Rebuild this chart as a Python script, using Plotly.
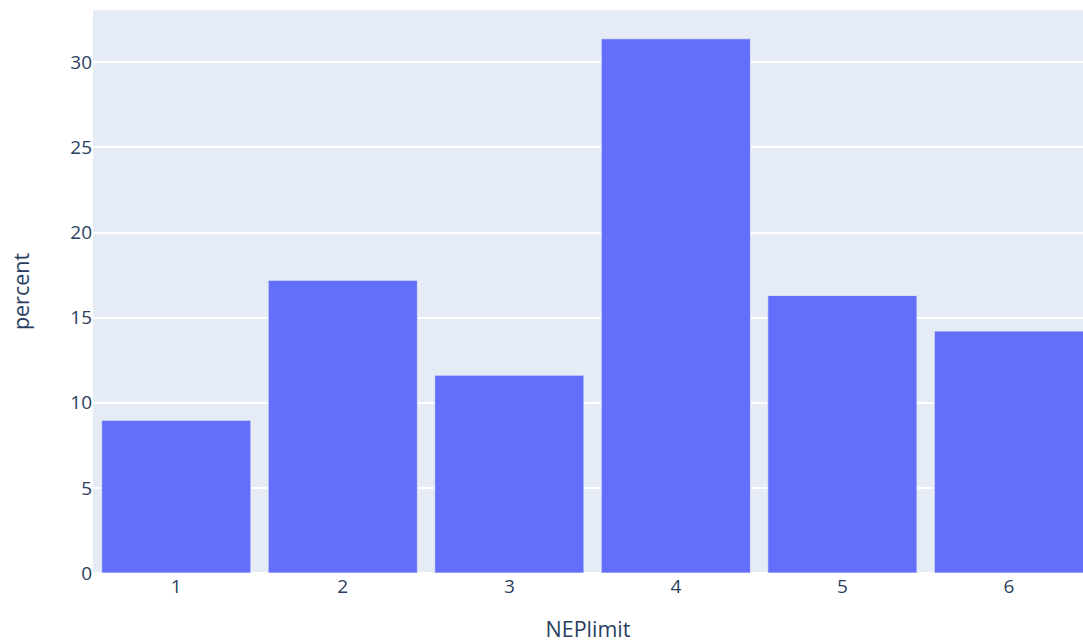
import plotly.graph_objects as go

categories = [1, 2, 3, 4, 5, 6]
percent = [8.97, 17.19, 11.62, 31.38, 16.3, 14.21]

fig = go.Figure(
    go.Bar(
        x=categories,
        y=percent,
        marker=dict(color="#636efa", line=dict(color="#E5ECF6", width=0.8)),
    )
)

fig.update_layout(
    template="plotly",
    width=1083,
    height=643,
    margin=dict(l=93, r=0, t=10, b=70),
    bargap=0.104,
    font=dict(family="Open Sans, sans-serif", size=19, color="#2a3f5f"),
    showlegend=False,
)
fig.update_xaxes(
    range=[0.5, 6.445],
    tickvals=categories,
    ticktext=[str(c) for c in categories],
    title=dict(text="NEPlimit", font=dict(size=21.5), standoff=28),
    showgrid=False,
    ticklen=0,
)
fig.update_yaxes(
    range=[0, 33.07],
    dtick=5,
    title=dict(text="percent", font=dict(size=21.5), standoff=34),
    gridwidth=1.6,
    zeroline=True,
    zerolinewidth=2,
)

fig.write_html(
    "out.html",
    config={"displayModeBar": False},
    post_script="document.body.style.margin='0';document.body.style.overflow='hidden';",
)
